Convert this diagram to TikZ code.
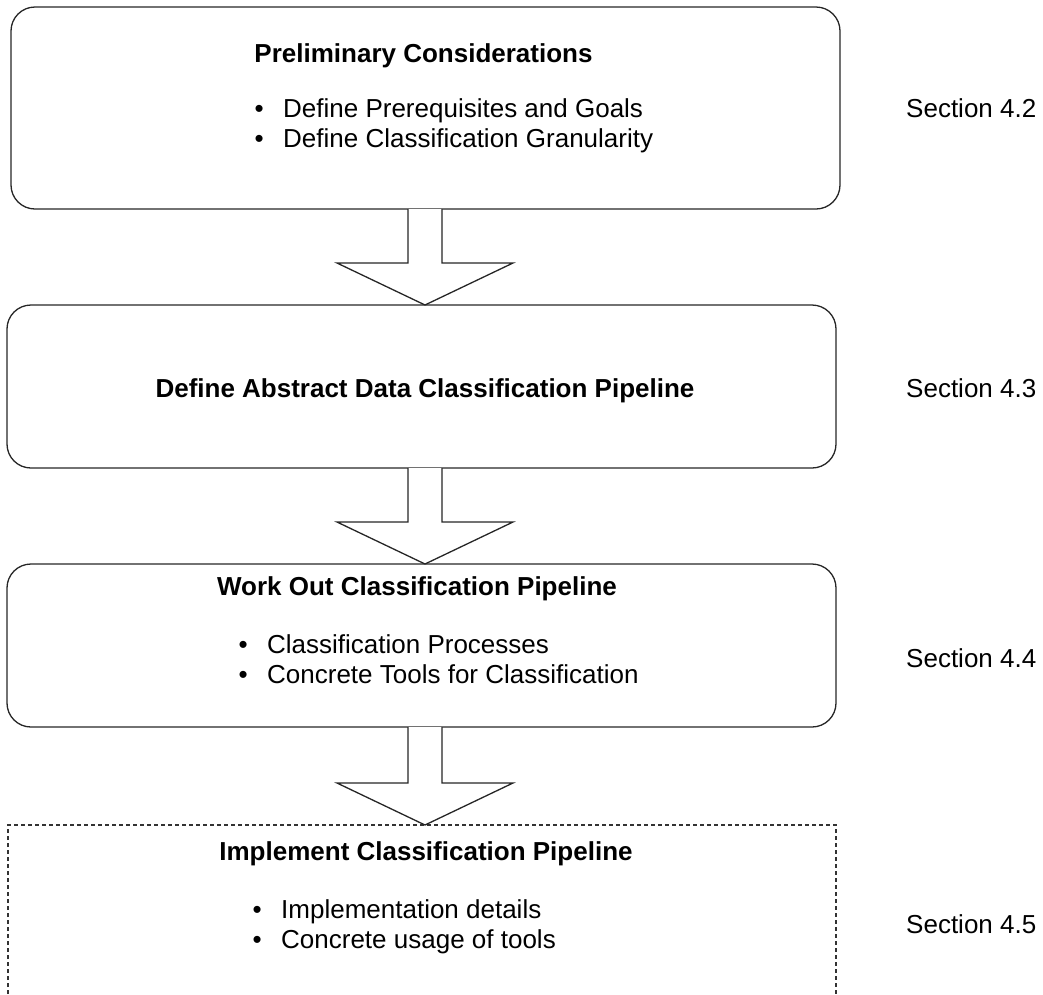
\documentclass[tikz,border=0pt]{standalone}
\usepackage{fontspec}
\setmainfont{Liberation Sans}
\usetikzlibrary{calc}

\tikzset{
  stagebox/.style={draw=black!85, line width=1.3pt, rounded corners=24pt,
    rectangle, inner sep=0pt, outer sep=0pt},
  openbox/.style={rectangle, inner sep=0pt, outer sep=0pt},
  dashedframe/.style={draw=black!80, line width=1.1pt, dash pattern=on 4pt off 3pt},
  blockarrow/.style={draw=black!85, line width=1.3pt, fill=white, line join=miter},
  title/.style={font=\fontsize{26}{30}\selectfont\bfseries, anchor=base, inner sep=0pt},
  item/.style={font=\fontsize{26}{30}\selectfont, anchor=base west, inner sep=0pt},
  sectionlabel/.style={font=\fontsize{26}{30}\selectfont, anchor=base west, inner sep=0pt},
}
\newcommand{\bulletitem}[1]{\makebox[28.5pt][l]{\textbullet}#1}

\begin{document}
\begin{tikzpicture}[x=1pt, y=-1pt]
\useasboundingbox (0,0) rectangle (1043,994);

% stage boxes
\node[stagebox, minimum width=829pt, minimum height=202pt] (b1) at (425.5,108) {};
\node[stagebox, minimum width=829pt, minimum height=163pt] (b2) at (421.5,386.5) {};
\node[stagebox, minimum width=829pt, minimum height=163pt] (b3) at (421.5,645.5) {};
\node[openbox, minimum width=828pt, minimum height=169pt] (b4) at (422,909.5) {};
\draw[dashedframe] (b4.south west) -- (b4.north west) -- (b4.north east) -- (b4.south east);

% block arrows between the stages
\coordinate (ax) at (425,0);
\foreach \from/\to in {b1/b2, b2/b3, b3/b4} {
  \draw[blockarrow] let \p1=(ax |- \from.south), \p2=(ax |- \to.north) in
    (\x1-17pt,\y1) -- (\x1-17pt,\y2+42pt) -- (\x1-88pt,\y2+42pt) -- (\x2,\y2)
    -- (\x1+88pt,\y2+42pt) -- (\x1+17pt,\y2+42pt) -- (\x1+17pt,\y1);
}

% stage 1
\node[title] (t1) at (423.5,62) {Preliminary Considerations};
\node[item] (i11) at (254.5,117) {\bulletitem{Define Prerequisites and Goals}};
\node[item] (i12) at (254.5,147) {\bulletitem{Define Classification Granularity}};
\node[sectionlabel] (s1) at (906,117) {Section 4.2};

% stage 2
\node[title] (t2) at (425,397) {Define Abstract Data Classification Pipeline};
\node[sectionlabel] (s2) at (906,397) {Section 4.3};

% stage 3
\node[title] (t3) at (417,595) {Work Out Classification Pipeline};
\node[item] (i31) at (238.5,653) {\bulletitem{Classification Processes}};
\node[item] (i32) at (238.5,683) {\bulletitem{Concrete Tools for Classification}};
\node[sectionlabel] (s3) at (906,667) {Section 4.4};

% stage 4
\node[title] (t4) at (426,860) {Implement Classification Pipeline};
\node[item] (i41) at (252.5,918) {\bulletitem{Implementation details}};
\node[item] (i42) at (252.5,948) {\bulletitem{Concrete usage of tools}};
\node[sectionlabel] (s4) at (906,933) {Section 4.5};
\end{tikzpicture}
\end{document}
